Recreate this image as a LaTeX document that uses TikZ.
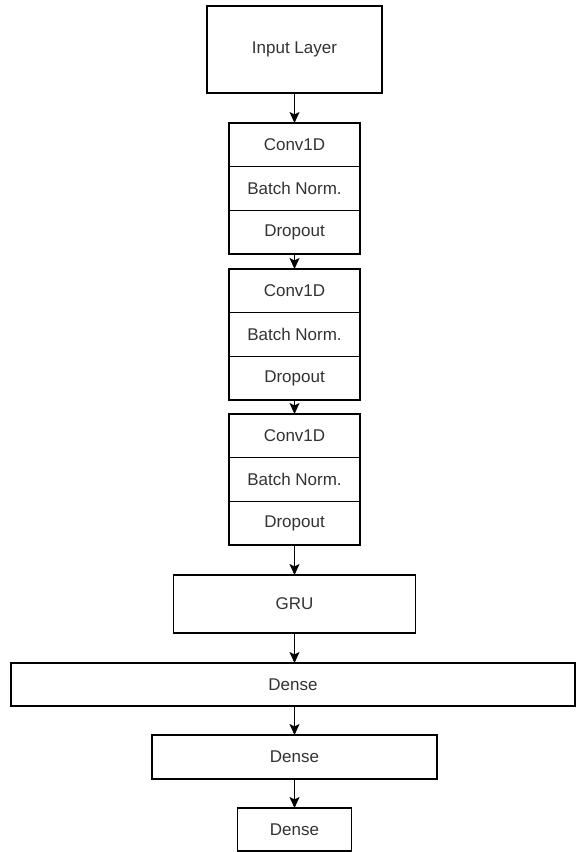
\documentclass[tikz,border=0pt]{standalone}
\usepackage{fontspec}
\setmainfont{Liberation Sans}
\usetikzlibrary{arrows.meta}
\definecolor{txt}{HTML}{333333}
\tikzset{
  layer/.style={draw=black, line width=1.3pt, fill=white, rectangle, inner sep=0pt, outer sep=0pt,
    font=\fontsize{17}{19}\selectfont, text=txt, anchor=center},
  row/.style={layer, minimum width=131pt, minimum height=43.67pt},
  conn/.style={draw=black, line width=1.3pt, -{Stealth[length=11pt, width=10pt, inset=2.5pt]}}
}
\begin{document}
\begin{tikzpicture}[x=1pt, y=-1pt]
\useasboundingbox (0,0) rectangle (576,852);
\fill[white] (0,0) rectangle (576,852);
\node[layer, minimum width=175pt, minimum height=87pt] (in) at (294.5,49.5) {Input Layer};
% block 1
\node[row] (c1) at (294.5,144.8) {Conv1D};
\node[row] (b1) at (294.5,188.5) {Batch Norm.};
\node[row] (d1) at (294.5,232.2) {Dropout};
% block 2
\node[row] (c2) at (294.5,290.8) {Conv1D};
\node[row] (b2) at (294.5,334.5) {Batch Norm.};
\node[row] (d2) at (294.5,378.2) {Dropout};
% block 3
\node[row] (c3) at (294.5,435.8) {Conv1D};
\node[row] (b3) at (294.5,479.5) {Batch Norm.};
\node[row] (d3) at (294.5,523.2) {Dropout};
\node[layer, minimum width=242pt, minimum height=58pt] (gru) at (294.5,604) {GRU};
\node[layer, minimum width=564pt, minimum height=43pt] (de1) at (293,684.5) {Dense};
\node[layer, minimum width=285pt, minimum height=44pt] (de2) at (294.5,757) {Dense};
\node[layer, minimum width=114pt, minimum height=43pt] (de3) at (294.5,829.5) {Dense};
\draw[conn] (in.south) -- (c1.north);
\draw[conn] (d1.south) -- (c2.north);
\draw[conn] (d2.south) -- (c3.north);
\draw[conn] (d3.south) -- (gru.north);
\draw[conn] (gru.south) -- (gru.south |- de1.north);
\draw[conn] (de1.south -| de2.north) -- (de2.north);
\draw[conn] (de2.south) -- (de3.north);
\end{tikzpicture}
\end{document}
